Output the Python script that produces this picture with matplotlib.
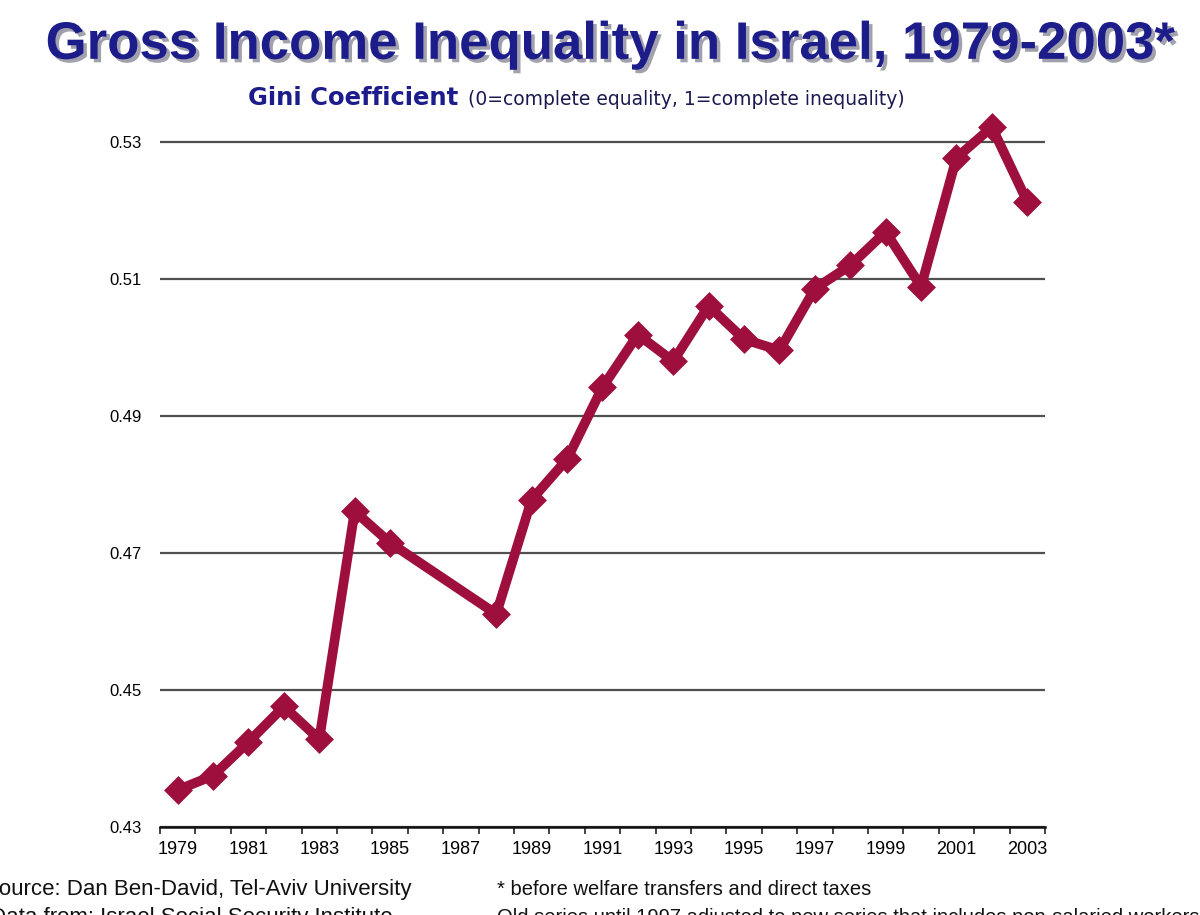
import numpy as np
import matplotlib.pyplot as plt
import matplotlib.patheffects as pe

# Gini coefficient, gross income (1986 and 1987 are missing in the source)
years = [1979, 1980, 1981, 1982, 1983, 1984, 1985, 1988, 1989, 1990, 1991, 1992,
         1993, 1994, 1995, 1996, 1997, 1998, 1999, 2000, 2001, 2002, 2003]
gini = [0.4354, 0.4375, 0.4424, 0.4476, 0.4428, 0.4761, 0.4715, 0.4611, 0.4778,
        0.4837, 0.4942, 0.5019, 0.4980, 0.5061, 0.5012, 0.4996, 0.5086, 0.5120,
        0.5169, 0.5089, 0.5277, 0.5322, 0.5213]
y_ticks = [0.43, 0.45, 0.47, 0.49, 0.51, 0.53]
x_labels = list(range(1979, 2004, 2))

navy = '#1c1c8a'
wine = '#9e0f3e'
plt.rcParams['font.family'] = ['Liberation Sans', 'DejaVu Sans']

fig = plt.figure(figsize=(12, 9.15), dpi=100)
ax = fig.add_axes([0.1333, 0.0962, 0.7375, 0.7934])

ax.plot(years, gini, color=wine, lw=7, marker='D', ms=12.5, mfc=wine, mec=wine,
        mew=2.5, solid_joinstyle='round', clip_on=False, zorder=3)

ax.set_xlim(1978.5, 2003.5)
ax.set_ylim(0.43, 0.536)
ax.set_yticks(y_ticks)
ax.set_yticklabels(['%.2f' % v for v in y_ticks], fontsize=12)
ax.yaxis.grid(True, color='#505050', lw=1.6)
ax.set_axisbelow(True)
ax.tick_params(axis='y', length=0, pad=13)

# tick marks sit between the categories, labels on every other year
ax.set_xticks(np.arange(1978.5, 2004, 1.0))
ax.set_xticklabels([])
ax.set_xticks(x_labels, minor=True)
ax.set_xticklabels([str(y) for y in x_labels], minor=True, fontsize=13)
ax.tick_params(axis='x', which='major', length=5, width=1.2, color='#222222')
ax.tick_params(axis='x', which='minor', length=0, pad=10)

for s in ['top', 'right', 'left']:
    ax.spines[s].set_visible(False)
ax.spines['bottom'].set_linewidth(1.8)
ax.spines['bottom'].set_color('#111111')

fig.text(0.508, 0.951, 'Gross Income Inequality in Israel, 1979-2003*',
         ha='center', va='center', fontsize=38, fontweight='bold', color=navy,
         path_effects=[pe.withSimplePatchShadow(offset=(2.5, -2.5),
                                                shadow_rgbFace='#8a8a9a', alpha=0.8)])
fig.text(0.207, 0.885, 'Gini Coefficient', ha='left', va='baseline',
         fontsize=17.5, fontweight='bold', color=navy, family=['DejaVu Sans'])
fig.text(0.390, 0.885, '(0=complete equality, 1=complete inequality)',
         ha='left', va='baseline', fontsize=13.5, color='#1a1a50',
         family=['DejaVu Sans'])

# footer, partly cut by the picture edges as in the original slide
fig.text(-0.013, 0.028, 'Source: Dan Ben-David, Tel-Aviv University',
         ha='left', va='center', fontsize=16, color='#111111')
fig.text(-0.008, -0.003, 'Data from: Israel Social Security Institute',
         ha='left', va='center', fontsize=16, color='#111111')
fig.text(0.414, 0.028, '* before welfare transfers and direct taxes',
         ha='left', va='center', fontsize=14.5, color='#111111')
fig.text(0.414, -0.003, 'Old series until 1997 adjusted to new series that includes non-salaried workers',
         ha='left', va='center', fontsize=14.5, color='#111111')

fig.savefig('out.png', dpi=100, facecolor='white')
